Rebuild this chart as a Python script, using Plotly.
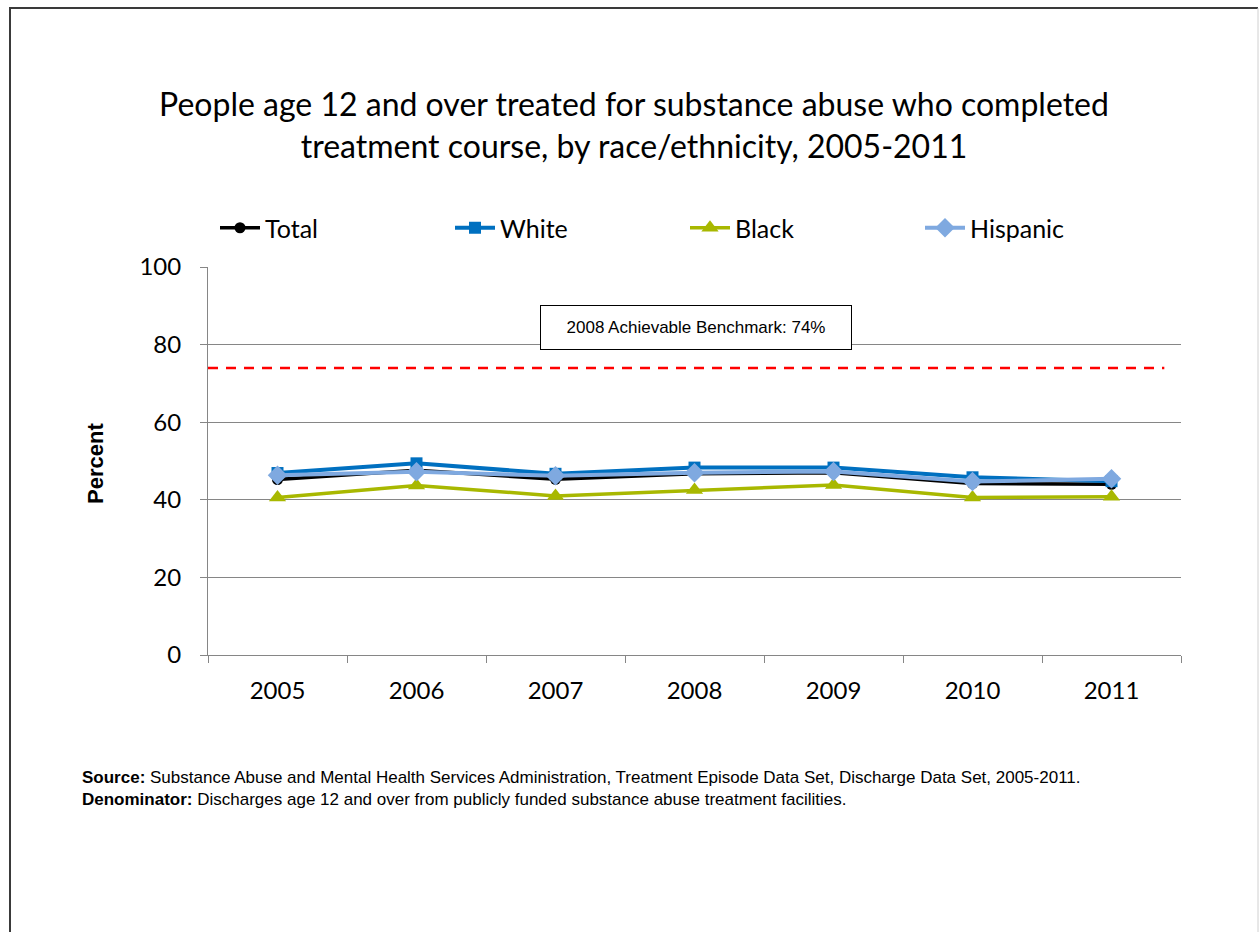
import plotly.graph_objects as go

years = ["2005", "2006", "2007", "2008", "2009", "2010", "2011"]
total = [45.2, 47.6, 45.3, 46.7, 47.0, 44.2, 44.0]
white = [46.9, 49.4, 46.7, 48.3, 48.3, 45.8, 44.8]
black = [40.6, 43.7, 41.0, 42.5, 43.8, 40.6, 40.8]
hispanic = [46.3, 47.2, 46.2, 47.0, 47.3, 44.7, 45.4]
benchmark = 74
y_ticks = [0, 20, 40, 60, 80, 100]

W, H = 1259, 932
L, R, T, B = 208, 1181, 267, 655  # plot area pixels


def px(x):
    return (x - L) / (R - L)


def py(y):
    return (B - y) / (B - T)


xi = list(range(len(years)))
fig = go.Figure()

series = [
    ("Total", total, "#000000", "circle", 11, 3.5),
    ("White", white, "#0070C0", "square", 12, 4),
    ("Black", black, "#A8B800", "triangle-up", 15, 3.5),
    ("Hispanic", hispanic, "#7FA9E0", "diamond", 15, 4),
]
for name, vals, col, sym, size, lw in series:
    fig.add_trace(go.Scatter(
        x=xi, y=vals, name=name, mode="lines+markers",
        line=dict(color=col, width=lw),
        marker=dict(symbol=sym, size=size, color=col, line=dict(width=0)),
        cliponaxis=False,
    ))

# benchmark dashed line
fig.add_trace(go.Scatter(
    x=[-0.5, 6.38], y=[benchmark, benchmark], mode="lines",
    line=dict(color="#FF0000", width=2.5, dash="10px,8px"),
    showlegend=False, hoverinfo="skip",
))

calibri_like = "Lato, 'Open Sans', sans-serif"
arial = "Liberation Sans, Arial, sans-serif"

fig.update_layout(
    width=W, height=H,
    margin=dict(l=L, r=W - R, t=T, b=H - B, autoexpand=False),
    paper_bgcolor="white", plot_bgcolor="white",
    title=dict(
        text="People age 12 and over treated for substance abuse who completed<br>treatment course, by race/ethnicity, 2005-2011",
        x=634 / W, xanchor="center", xref="container",
        y=1 - 116 / H, yanchor="middle", yref="container",
        font=dict(family=calibri_like, size=32, color="#000000"),
    ),
    legend=dict(
        orientation="h", x=px(215), xanchor="left", y=py(228), yanchor="middle",
        font=dict(family=calibri_like, size=25, color="#000000"),
        entrywidth=180, entrywidthmode="pixels",
        itemwidth=40, bgcolor="rgba(0,0,0,0)", traceorder="normal",
    ),
    xaxis=dict(
        range=[-0.5, 6.5], tickmode="array", tickvals=xi, ticktext=years,
        showgrid=False, zeroline=False, showline=True, linecolor="#868686", linewidth=1,
        ticks="", ticklabelstandoff=14,
        tickfont=dict(family=calibri_like, size=24, color="#000000"),
        minor=dict(tickmode="array", tickvals=[i - 0.5 for i in range(len(years) + 1)],
                   ticks="outside", ticklen=7, tickcolor="#868686", showgrid=False),
    ),
    yaxis=dict(
        range=[0, 100], tickmode="array", tickvals=y_ticks,
        showgrid=True, gridcolor="#868686", gridwidth=1,
        zeroline=False, showline=True, linecolor="#868686", linewidth=1,
        ticks="outside", ticklen=7, tickcolor="#868686", ticklabelstandoff=14,
        tickfont=dict(family=calibri_like, size=24, color="#000000"),
    ),
    showlegend=True,
)

annotations = [
    dict(text="<b>Percent</b>", x=px(95), y=py(464), xref="paper", yref="paper",
         textangle=-90, showarrow=False, xanchor="center", yanchor="middle",
         font=dict(family=arial, size=22, color="#000000")),
    dict(text="2008 Achievable Benchmark: 74%", x=px(696), y=py(327.5), xref="paper", yref="paper",
         showarrow=False, xanchor="center", yanchor="middle",
         width=304, height=37, bordercolor="#000000", borderwidth=1, borderpad=3,
         bgcolor="white",
         font=dict(family=arial, size=17, color="#000000")),
    dict(text="<b>Source:</b> Substance Abuse and Mental Health Services Administration, Treatment Episode Data Set, Discharge Data Set, 2005-2011.<br>"
              "<b>Denominator:</b> Discharges age 12 and over from publicly funded substance abuse treatment facilities.",
         x=px(80), y=py(788.5), xref="paper", yref="paper", showarrow=False,
         xanchor="left", yanchor="middle", align="left",
         font=dict(family=arial, size=17, color="#000000")),
]
fig.update_layout(annotations=annotations)

# outer frame
shapes = [
    dict(type="line", xref="paper", yref="paper", x0=px(9), x1=px(1258), y0=py(8), y1=py(8),
         line=dict(color="#3A3A3A", width=2)),
    dict(type="line", xref="paper", yref="paper", x0=px(10), x1=px(10), y0=py(8), y1=py(940),
         line=dict(color="#3A3A3A", width=2)),
    dict(type="line", xref="paper", yref="paper", x0=px(1258), x1=px(1258), y0=py(8), y1=py(940),
         line=dict(color="#D0D0D0", width=1)),
]
fig.update_layout(shapes=shapes)

fig.write_html("out.html", config={"displayModeBar": False},
               post_script="document.body.style.margin='0';document.body.style.overflow='hidden';")
